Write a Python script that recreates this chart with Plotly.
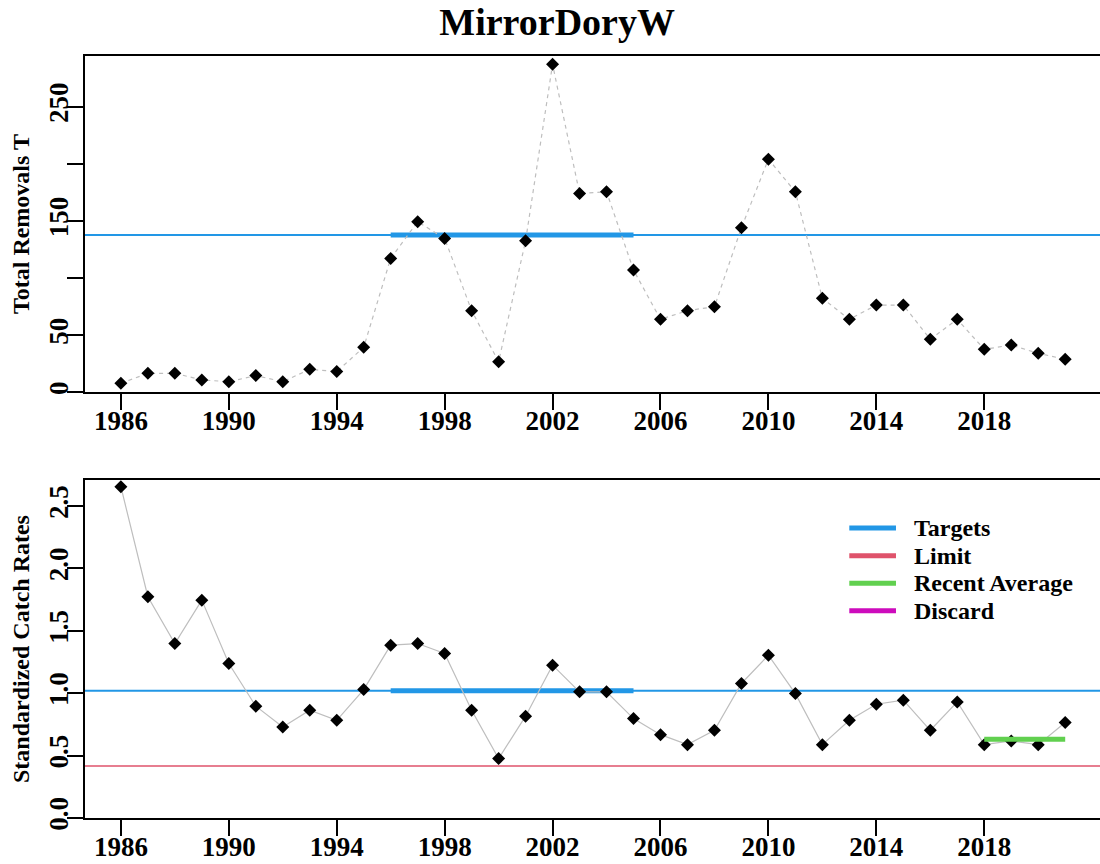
import plotly.graph_objects as go
from plotly.subplots import make_subplots

years = list(range(1986, 2022))

# total removals (t)
removals = [7.9, 16.6, 16.6, 10.8, 9.3, 14.6, 9.3, 20.1, 18.1, 39.4,
            117.3, 149.4, 134.8, 71.5, 26.8, 132.7, 287.3, 174.2, 175.6, 107.1,
            63.9, 71.5, 75.0, 144.1, 204.2, 175.6, 82.3, 63.9, 76.4, 76.4,
            46.4, 63.9, 37.6, 41.4, 34.1, 28.9]

# standardized catch rates, bottom panel
cpue = [2.655, 1.773, 1.398, 1.746, 1.238, 0.896, 0.730, 0.864, 0.783, 1.029,
        1.385, 1.398, 1.318, 0.864, 0.476, 0.816, 1.225, 1.011, 1.011, 0.797,
        0.668, 0.588, 0.703, 1.078, 1.305, 0.997, 0.588, 0.783, 0.912, 0.944,
        0.703, 0.930, 0.588, 0.618, 0.588, 0.765]

target_years = [1996, 2005]
target_catch = 137.7
target_cpue = 1.02
limit_cpue = 0.417
recent_years = [2018, 2021]
recent_cpue = 0.631

x_ticks = list(range(1986, 2019, 4))
top_ticks = [0, 50, 100, 150, 200, 250]
top_labels = ["0", "50", "", "150", "", "250"]
bot_ticks = [0, 0.5, 1.0, 1.5, 2.0, 2.5]
bot_labels = ["0.0", "0.5", "1.0", "1.5", "2.0", "2.5"]

legend_names = ["Targets", "Limit", "Recent Average", "Discard"]

BLUE = "#2297E6"
RED = "#DF536B"
GREEN = "#61D04F"
MAGENTA = "#CD0BBC"
GREY = "#BEBEBE"
SERIF = "Liberation Serif"
legend_colors = [BLUE, RED, GREEN, MAGENTA]

fig = make_subplots(rows=2, cols=1, vertical_spacing=0.115)

# thick target segments
fig.add_trace(go.Scatter(x=target_years, y=[target_catch] * 2, mode="lines",
                         line=dict(color=BLUE, width=5)), row=1, col=1)
fig.add_trace(go.Scatter(x=target_years, y=[target_cpue] * 2, mode="lines",
                         line=dict(color=BLUE, width=5)), row=2, col=1)

# series
fig.add_trace(go.Scatter(x=years, y=removals, mode="lines+markers",
                         line=dict(color=GREY, width=1.2, dash="4px,4px"),
                         marker=dict(symbol="diamond", size=10, color="black")),
              row=1, col=1)
fig.add_trace(go.Scatter(x=years, y=cpue, mode="lines+markers",
                         line=dict(color=GREY, width=1.2),
                         marker=dict(symbol="diamond", size=10, color="black")),
              row=2, col=1)

# recent average on top of the points
fig.add_trace(go.Scatter(x=recent_years, y=[recent_cpue] * 2, mode="lines",
                         line=dict(color=GREEN, width=5)), row=2, col=1)

# full-width reference lines
fig.add_shape(type="line", xref="x domain", x0=0, x1=1, yref="y",
              y0=target_catch, y1=target_catch, line=dict(color=BLUE, width=2),
              layer="below")
fig.add_shape(type="line", xref="x2 domain", x0=0, x1=1, yref="y2",
              y0=target_cpue, y1=target_cpue, line=dict(color=BLUE, width=2),
              layer="below")
fig.add_shape(type="line", xref="x2 domain", x0=0, x1=1, yref="y2",
              y0=limit_cpue, y1=limit_cpue, line=dict(color=RED, width=1.5),
              layer="below")

# legend drawn by hand (R style, tight rows)
for i, (name, col) in enumerate(zip(legend_names, legend_colors)):
    yy = 0.3805 - i * 0.0362
    fig.add_shape(type="line", xref="x2 domain", yref="paper",
                  x0=0.753, x1=0.799, y0=yy, y1=yy,
                  line=dict(color=col, width=5))
    fig.add_annotation(text=name, xref="x2 domain", yref="paper", x=0.815, y=yy,
                       xanchor="left", yanchor="middle", showarrow=False,
                       font=dict(family=SERIF, size=24, color="black",
                                 weight="bold"))

tickfont = dict(family=SERIF, size=27, color="black", weight="bold")
xaxis_style = dict(range=[1984.67, 2022.29], tickvals=x_ticks, ticks="outside",
                   ticklen=16, tickwidth=1.5, tickcolor="black", showline=True,
                   linecolor="black", linewidth=1.5, mirror=True,
                   showgrid=False, zeroline=False, tickfont=tickfont,
                   ticklabelstandoff=-12, automargin=False)
yaxis_style = dict(ticks="outside", ticklen=16, tickwidth=1.5, tickcolor="black",
                   showline=True, linecolor="black", linewidth=1.5,
                   showgrid=False, zeroline=False, tickangle=-90,
                   tickfont=tickfont, ticklabelstandoff=-12, automargin=False)

fig.update_xaxes(**xaxis_style)
fig.update_yaxes(**yaxis_style)
fig.update_yaxes(range=[0, 294.6], tickvals=top_ticks, ticktext=top_labels,
                 domain=[0.5587, 1.0], row=1, col=1)
fig.update_yaxes(range=[0, 2.709], tickvals=bot_ticks, ticktext=bot_labels,
                 domain=[0.0, 0.4436], row=2, col=1)

axis_title_font = dict(family=SERIF, size=24, color="black", weight="bold")
fig.add_annotation(text="Total Removals T", xref="paper", yref="paper",
                   x=-0.063, y=0.7795, xanchor="center", yanchor="middle",
                   textangle=-90, showarrow=False, font=axis_title_font)
fig.add_annotation(text="Standardized Catch Rates", xref="paper", yref="paper",
                   x=-0.063, y=0.2218, xanchor="center", yanchor="middle",
                   textangle=-90, showarrow=False, font=axis_title_font)

fig.update_layout(
    width=1100, height=864,
    margin=dict(l=85, r=0, t=56, b=46),
    paper_bgcolor="white", plot_bgcolor="white",
    title=dict(text="MirrorDoryW", xref="container", x=0.5065, xanchor="center",
               yref="container", y=0.9751, yanchor="middle",
               font=dict(family=SERIF, size=38, color="black", weight="bold")),
    showlegend=False,
)

# drop the browser's default page margin so the figure sits at (0, 0)
fig.write_html("out.html", config={"displayModeBar": False},
               post_script="document.body.style.margin='0';")
